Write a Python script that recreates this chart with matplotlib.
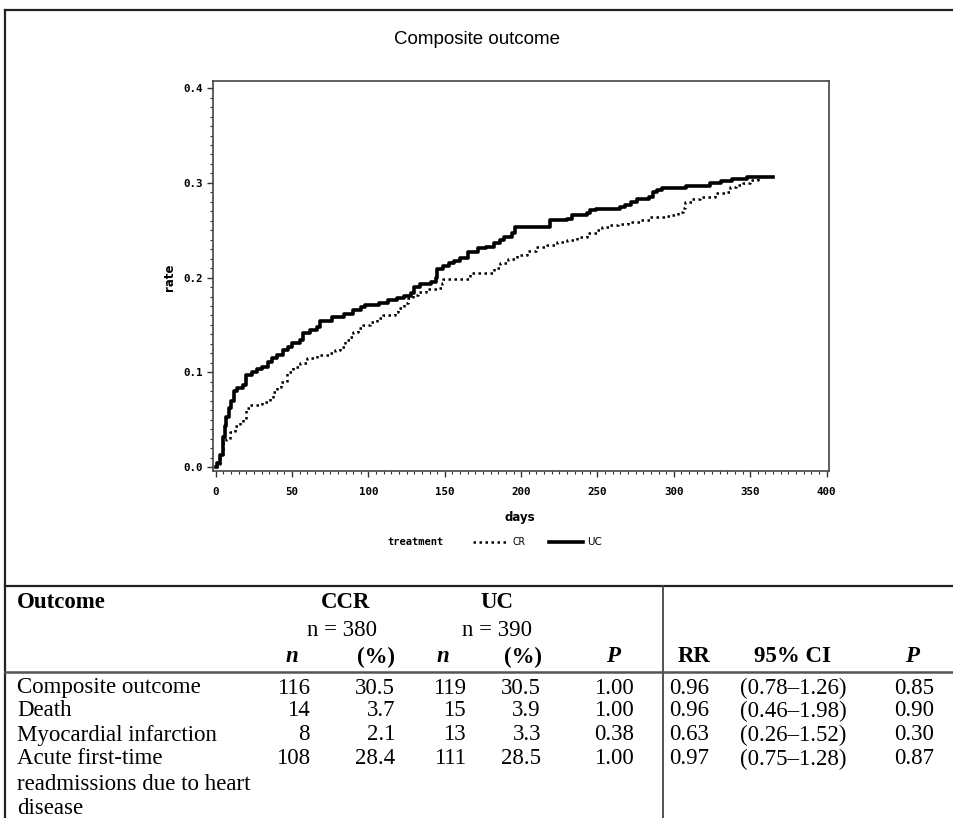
import matplotlib
matplotlib.use("Agg")
import matplotlib.pyplot as plt
from matplotlib.lines import Line2D
from matplotlib.ticker import MultipleLocator, FixedLocator, FuncFormatter

# ---------------- data ----------------
uc_days = [0, 1, 3, 4.6, 6, 7, 9, 10, 12, 14, 18, 20, 24, 27, 30, 34, 37, 40, 44, 47, 50,
           55, 57, 62, 66, 68, 76, 84, 90, 95, 98, 107, 113, 119, 123, 128, 130, 134, 141,
           144, 145, 149, 153, 156, 160, 165, 172, 177, 182, 186, 189, 194, 196, 219, 230,
           233, 243, 245, 249, 265, 268, 272, 276, 284, 286.6, 289, 292, 308, 324, 331, 338,
           347.7, 365]
uc_rate = [0.0, 0.004, 0.013, 0.032, 0.043, 0.053, 0.062, 0.070, 0.080, 0.083, 0.087, 0.097,
           0.100, 0.104, 0.106, 0.111, 0.115, 0.118, 0.124, 0.127, 0.131, 0.134, 0.141, 0.145,
           0.148, 0.154, 0.158, 0.162, 0.166, 0.169, 0.171, 0.173, 0.176, 0.178, 0.181, 0.184,
           0.190, 0.193, 0.195, 0.200, 0.209, 0.212, 0.215, 0.218, 0.221, 0.227, 0.231, 0.232,
           0.236, 0.240, 0.243, 0.247, 0.253, 0.261, 0.262, 0.266, 0.268, 0.271, 0.272, 0.275,
           0.277, 0.280, 0.2826, 0.2855, 0.290, 0.2925, 0.2946, 0.2967, 0.2995, 0.302, 0.304,
           0.3065, 0.3065]

cr_days = [0, 1, 3, 5, 7, 9.4, 12.6, 16, 18, 20, 22.5, 30, 35.6, 37.7, 40, 43, 46.5, 50.8, 55,
           59.6, 66, 75, 78, 81.4, 84.7, 88, 90, 93.4, 96.7, 101, 105.4, 109.8, 117.4, 119.6,
           123, 126, 129.4, 132.7, 138, 144.7, 148, 149, 166.5, 182, 186, 191.6, 197, 203.7,
           210, 216.8, 223.3, 230, 236.4, 243, 249.5, 253, 258, 263.6, 270, 278, 284.4, 295,
           298.6, 303, 306, 307.3, 311.7, 317, 321.5, 327, 334.6, 336.8, 341, 345.5, 350,
           355.3, 357]
cr_rate = [0.0, 0.003, 0.014, 0.025, 0.030, 0.037, 0.043, 0.048, 0.051, 0.062, 0.065, 0.069,
           0.0725, 0.0795, 0.085, 0.090, 0.100, 0.106, 0.1095, 0.115, 0.118, 0.120, 0.1235,
           0.127, 0.134, 0.1376, 0.143, 0.1465, 0.150, 0.1535, 0.157, 0.1605, 0.164, 0.1676,
           0.1735, 0.178, 0.1816, 0.185, 0.1876, 0.1886, 0.194, 0.198, 0.2045, 0.210, 0.215,
           0.220, 0.224, 0.228, 0.2326, 0.234, 0.238, 0.2397, 0.243, 0.2467, 0.250, 0.2537,
           0.2555, 0.2566, 0.259, 0.261, 0.2643, 0.265, 0.266, 0.2696, 0.273, 0.280, 0.2826,
           0.2848, 0.2855, 0.289, 0.2907, 0.2954, 0.2978, 0.300, 0.303, 0.305, 0.305]

x_ticks = [0, 50, 100, 150, 200, 250, 300, 350, 400]
y_ticks = [0.0, 0.1, 0.2, 0.3, 0.4]

outcomes = ["Composite outcome", "Death", "Myocardial infarction",
            "Acute first-time\nreadmissions due to heart\ndisease"]
ccr_n = ["116", "14", "8", "108"]
ccr_pct = ["30.5", "3.7", "2.1", "28.4"]
uc_n = ["119", "15", "13", "111"]
uc_pct = ["30.5", "3.9", "3.3", "28.5"]
p_values = ["1.00", "1.00", "0.38", "1.00"]
rr_values = ["0.96", "0.96", "0.63", "0.97"]
ci_values = ["(0.78\u20131.26)", "(0.46\u20131.98)", "(0.26\u20131.52)", "(0.75\u20131.28)"]
p_rr = ["0.85", "0.90", "0.30", "0.87"]

# ---------------- figure ----------------
W, H = 954, 818
fig = plt.figure(figsize=(W / 100, H / 100), dpi=100)
fig.patch.set_facecolor("white")


def fx(x):
    return x / W


def fy(y):
    return 1 - y / H


ax_l, ax_r, ax_t, ax_b = 213.3, 829.3, 80.7, 470.7
ax = fig.add_axes([fx(ax_l), fy(ax_b), (ax_r - ax_l) / W, (ax_b - ax_t) / H])

ax.step(cr_days, cr_rate, where="post", color="black", lw=1.8,
        linestyle=(0, (1, 1.4)))
ax.step(uc_days, uc_rate, where="post", color="black", lw=2.6)

ax.set_xlim(-1.6, 401.8)
ax.set_ylim(-0.0039, 0.4079)
ax.xaxis.set_major_locator(FixedLocator(x_ticks))
ax.yaxis.set_major_locator(FixedLocator(y_ticks))
ax.xaxis.set_minor_locator(MultipleLocator(5))
ax.yaxis.set_minor_locator(MultipleLocator(0.01))
ax.xaxis.set_major_formatter(FuncFormatter(lambda v, p: f"{v:.0f}"))
ax.yaxis.set_major_formatter(FuncFormatter(lambda v, p: f"{v:.1f}"))

tick_font = dict(family="DejaVu Sans Mono", weight="bold", size=7.5)
for lab in ax.get_xticklabels() + ax.get_yticklabels():
    lab.set_fontfamily("DejaVu Sans Mono")
    lab.set_fontweight("bold")
    lab.set_fontsize(7.8)
ax.tick_params(which="major", direction="out", length=4.3, width=1.0, color="#333333")
ax.tick_params(which="minor", direction="out", length=2.2, width=0.8, color="#333333")
ax.tick_params(axis="x", which="major", pad=7.5)
ax.tick_params(axis="y", which="major", pad=3)
for sp in ax.spines.values():
    sp.set_color("#444444")
    sp.set_linewidth(1.2)

# titles / axis labels
fig.text(fx(477), fy(40), "Composite outcome", ha="center", va="center",
         fontsize=13.5, family="Liberation Sans")
fig.text(fx(170), fy(277), "rate", ha="center", va="center", rotation=90,
         fontsize=8.5, family="DejaVu Sans", weight="bold")
fig.text(fx(520), fy(517), "days", ha="center", va="center",
         fontsize=8.5, family="DejaVu Sans", weight="bold")

# legend
leg_y = 541.7
fig.text(fx(388), fy(leg_y), "treatment", ha="left", va="center", **tick_font)
fig.add_artist(Line2D([fx(472.7), fx(508)], [fy(leg_y), fy(leg_y)], color="black",
                      lw=1.8, linestyle=(0, (1, 1.4))))
fig.text(fx(513), fy(leg_y), "CR", ha="left", va="center", fontsize=7.5,
         family="DejaVu Sans", stretch="condensed")
fig.add_artist(Line2D([fx(549), fx(583)], [fy(leg_y), fy(leg_y)], color="black", lw=2.6))
fig.text(fx(587), fy(leg_y), "UC", ha="left", va="center", fontsize=7.5,
         family="DejaVu Sans")

# frame lines
def hline(y, x0, x1, lw=1.5, color="#222222"):
    fig.add_artist(Line2D([fx(x0), fx(x1)], [fy(y), fy(y)], color=color, lw=lw))


def vline(x, y0, y1, lw=1.5, color="#222222"):
    fig.add_artist(Line2D([fx(x), fx(x)], [fy(y0), fy(y1)], color=color, lw=lw))


hline(10, 5, W, lw=1.6)
vline(5, 10, H, lw=1.6)
hline(586, 5, W, lw=1.6)
vline(663, 586, H, lw=1.3, color="#444444")
hline(672, 5, W, lw=1.8, color="#555555")

# ---------------- table ----------------
serif = "Liberation Serif"
fs = 16.5
col_ccr_n = 310
col_ccr_pct = 395
col_uc_n = 466
col_uc_pct = 541
col_p = 634
col_rr = 709
col_ci = 740
col_p2 = 934

fig.text(fx(17), fy(602), "Outcome", ha="left", va="center", fontsize=fs,
         family=serif, weight="bold")
fig.text(fx(346), fy(602), "CCR", ha="center", va="center", fontsize=fs,
         family=serif, weight="bold")
fig.text(fx(497), fy(602), "UC", ha="center", va="center", fontsize=fs,
         family=serif, weight="bold")
fig.text(fx(342), fy(630), "n = 380", ha="center", va="center", fontsize=fs, family=serif)
fig.text(fx(497), fy(630), "n = 390", ha="center", va="center", fontsize=fs, family=serif)

hy = 657
bi = dict(fontsize=fs, family=serif, weight="bold", style="italic", va="center")
bb = dict(fontsize=fs, family=serif, weight="bold", va="center")
fig.text(fx(292), fy(hy), "n", ha="center", **bi)
fig.text(fx(376), fy(hy), "(%)", ha="center", **bb)
fig.text(fx(443), fy(hy), "n", ha="center", **bi)
fig.text(fx(523), fy(hy), "(%)", ha="center", **bb)
fig.text(fx(613), fy(hy), "P", ha="center", **bi)
fig.text(fx(694), fy(hy), "RR", ha="center", **bb)
fig.text(fx(793), fy(hy), "95% CI", ha="center", **bb)
fig.text(fx(912), fy(hy), "P", ha="center", **bi)

row_y = [688, 711, 735, 759]
line_gap = 25
rg = dict(fontsize=fs, family=serif, va="center")
for i, y in enumerate(row_y):
    lines = outcomes[i].split("\n")
    for k, t in enumerate(lines):
        fig.text(fx(17), fy(y + k * line_gap), t, ha="left", **rg)
    fig.text(fx(col_ccr_n), fy(y), ccr_n[i], ha="right", **rg)
    fig.text(fx(col_ccr_pct), fy(y), ccr_pct[i], ha="right", **rg)
    fig.text(fx(col_uc_n), fy(y), uc_n[i], ha="right", **rg)
    fig.text(fx(col_uc_pct), fy(y), uc_pct[i], ha="right", **rg)
    fig.text(fx(col_p), fy(y), p_values[i], ha="right", **rg)
    fig.text(fx(col_rr), fy(y), rr_values[i], ha="right", **rg)
    fig.text(fx(col_ci), fy(y), ci_values[i], ha="left", **rg)
    fig.text(fx(col_p2), fy(y), p_rr[i], ha="right", **rg)

fig.savefig("out.png", dpi=100, facecolor="white")
